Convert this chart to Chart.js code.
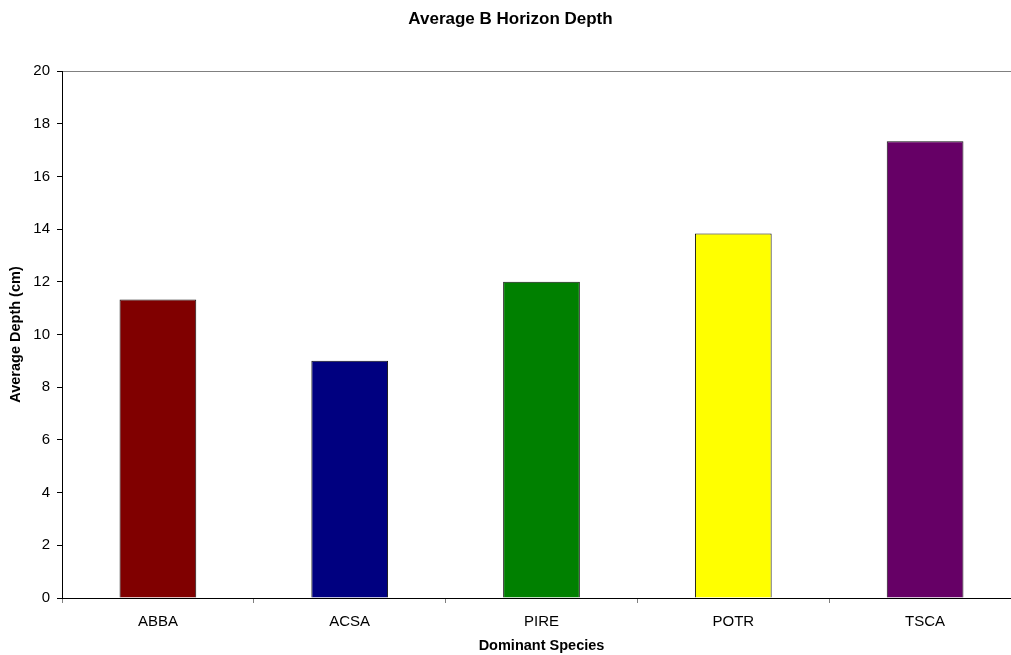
<!DOCTYPE html>
<html>
<head>
<meta charset="utf-8">
<title>Average B Horizon Depth</title>
<script src="https://cdn.jsdelivr.net/npm/chart.js@4/dist/chart.umd.min.js"></script>
<style>
  html, body { margin: 0; padding: 0; background: #fff; overflow: hidden; }
  #wrap { position: relative; width: 1024px; height: 655px; }
</style>
</head>
<body>
<div id="wrap"><canvas id="chart"></canvas></div>
<script>
// Dominant species and their mean B horizon depth (cm)
const species = ['ABBA', 'ACSA', 'PIRE', 'POTR', 'TSCA'];
const depthCm = [11.33, 9.0, 12.0, 13.83, 17.33];
const barColors = ['#800000', '#000080', '#008000', '#FFFF00', '#660066'];
const yTicks = [0, 2, 4, 6, 8, 10, 12, 14, 16, 18, 20];

const chartTitle = 'Average B Horizon Depth';
const xTitle = 'Dominant Species';
const yTitle = 'Average Depth (cm)';

const FONT = '"Liberation Sans", Arial, Helvetica, sans-serif';
Chart.defaults.font.family = FONT;
Chart.defaults.color = '#000';

new Chart(document.getElementById('chart'), {
  type: 'bar',
  data: {
    labels: species,
    datasets: [{
      data: depthCm,
      backgroundColor: barColors,
      borderColor: '#111',
      borderWidth: 1,
      barPercentage: 0.4,
      categoryPercentage: 1.0
    }]
  },
  options: {
    responsive: true,
    maintainAspectRatio: false,
    animation: false,
    layout: { padding: { left: 0, right: 3, top: 0, bottom: 0 } },
    plugins: {
      legend: { display: false },
      tooltip: { enabled: false },
      title: {
        display: true,
        text: chartTitle,
        font: { size: 17, weight: 'bold', family: FONT },
        color: '#000',
        padding: { top: 9, bottom: 41.6 }
      }
    },
    scales: {
      x: {
        offset: true,
        afterFit: (scale) => { scale.height = 57; },
        grid: {
          offset: true,
          drawOnChartArea: false,
          tickLength: 5,
          tickColor: '#808080'
        },
        border: { display: true, color: '#000', width: 1 },
        ticks: { font: { size: 15 }, padding: 10, color: '#000' },
        title: {
          display: true,
          text: xTitle,
          font: { size: 14.5, weight: 'bold' },
          color: '#000',
          padding: { top: 0, bottom: 0 }
        }
      },
      y: {
        min: 0,
        max: 20,
        afterFit: (scale) => { scale.width = 62; },
        afterBuildTicks: (scale) => { scale.ticks = yTicks.map(v => ({ value: v })); },
        grid: {
          color: (ctx) => (ctx.tick && ctx.tick.value === 20 ? '#808080' : 'rgba(0,0,0,0)'),
          tickColor: '#000',
          tickLength: 5,
          lineWidth: 1
        },
        border: { display: true, color: '#000', width: 1 },
        ticks: { font: { size: 15 }, padding: 7, color: '#000' },
        title: {
          display: true,
          text: yTitle,
          font: { size: 14.5, weight: 'bold' },
          color: '#000',
          padding: { top: 7, bottom: 0 }
        }
      }
    }
  }
});
</script>
</body>
</html>
